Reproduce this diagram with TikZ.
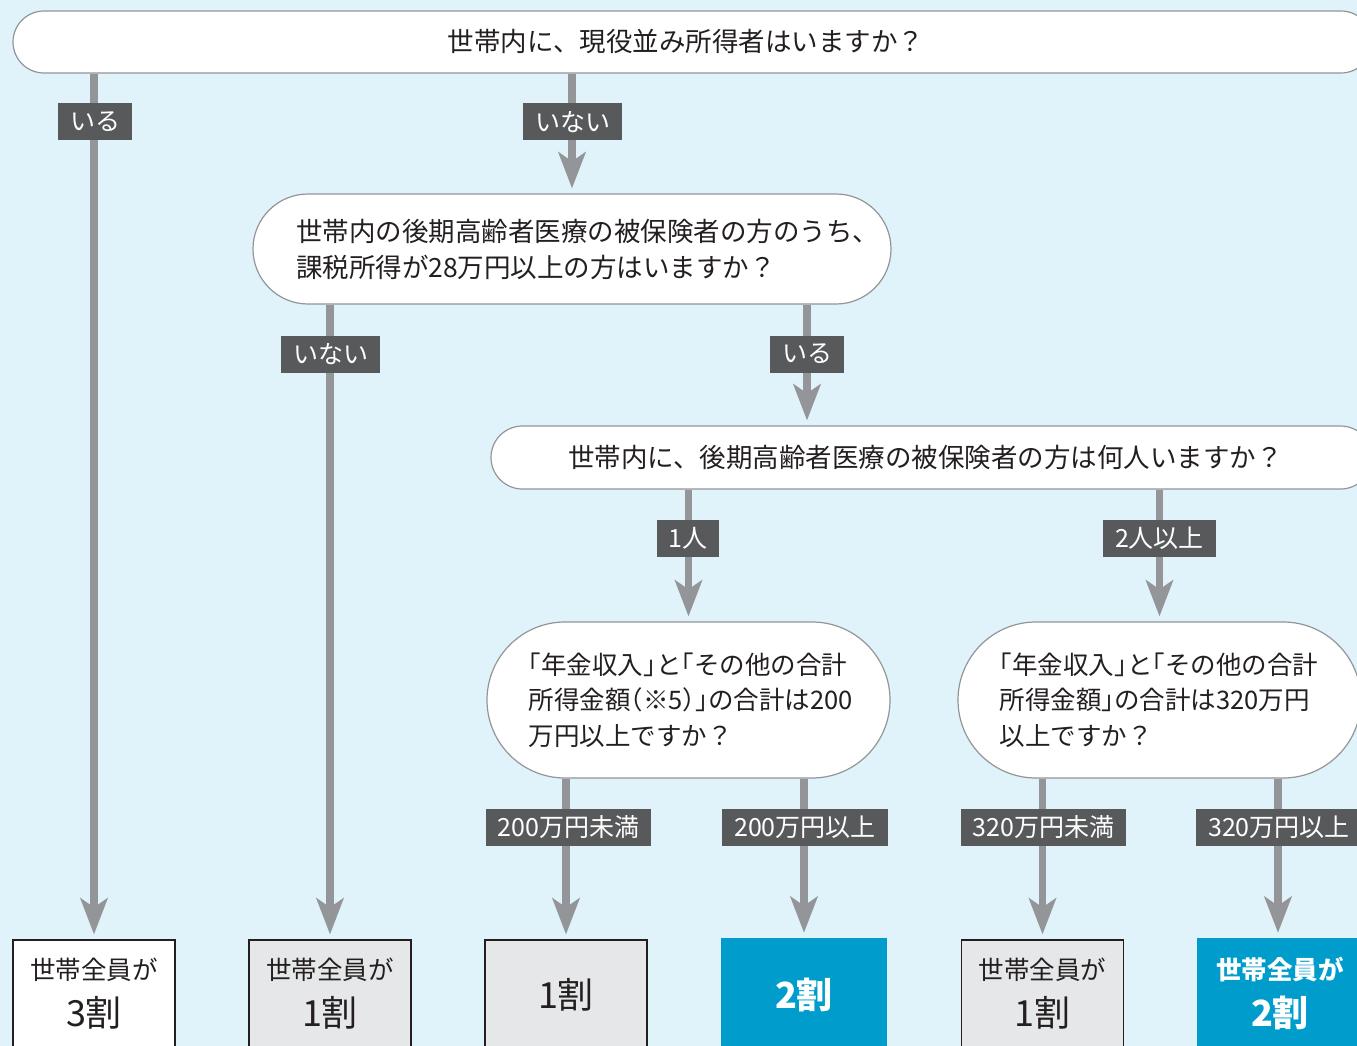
\documentclass[tikz,border=0pt]{standalone}
\usepackage{fontspec}
\setmainfont{Noto Sans CJK JP}
\newfontfamily\halfpunct{Noto Sans CJK JP}[RawFeature=+halt]
\usetikzlibrary{arrows.meta}
\definecolor{bgc}{HTML}{E0F2FA}
\definecolor{qline}{HTML}{939598}
\definecolor{arrc}{HTML}{939598}
\definecolor{labc}{HTML}{58595B}
\definecolor{txtc}{HTML}{231F20}
\definecolor{boxg}{HTML}{E6E7E8}
\definecolor{bluec}{HTML}{009DCC}
\begin{document}
\begin{tikzpicture}[x=1pt,y=-1pt,
  qbox/.style={draw=qline, line width=1.2pt, fill=white, text=txtc, inner sep=0pt,
    font=\fontsize{26.5}{36}\selectfont},
  qsmall/.style={qbox, font=\fontsize{25.5}{35.5}\selectfont},
  labbox/.style={fill=labc, text=white, inner xsep=12pt, inner ysep=0pt, minimum height=37pt,
    font=\fontsize{25}{28}\selectfont},
  rbox/.style={draw=txtc, line width=1.2pt, fill=boxg, minimum width=162pt, minimum height=150pt},
  wbox/.style={rbox, fill=white},
  bbox/.style={fill=bluec, minimum width=166pt, minimum height=150pt},
  smalltxt/.style={text=txtc, inner sep=0pt, font=\fontsize{25.5}{30}\selectfont},
  bigtxt/.style={text=txtc, inner sep=0pt, font=\fontsize{36}{40}\selectfont},
  bsmall/.style={text=white, inner sep=0pt, font=\fontsize{25.5}{30}\selectfont\bfseries},
  bbig/.style={text=white, inner sep=0pt, font=\fontsize{36}{40}\selectfont\bfseries},
  arr/.style={draw=arrc, line width=7.5pt, -{Stealth[length=36pt,width=27pt,inset=9pt]}, shorten >=5pt}
]
\useasboundingbox (0,0) rectangle (1357,1046);
\clip (0,0) rectangle (1357,1046);
\fill[bgc] (0,0) rectangle (1357,1046);

% question nodes
\node[qbox, minimum width=1359pt, minimum height=62pt, rounded corners=31pt] (q1) at (692.5,42)
  {\hspace*{-13pt}世帯内に、現役並み所得者はいますか？};
\node[qbox, minimum width=638pt, minimum height=110pt, rounded corners=55pt, text width=620pt, align=left] (q2) at (572,249)
  {\hspace*{34pt}世帯内の後期高齢者医療の被保険者の方のうち、\\\hspace*{34pt}課税所得が28万円以上の方はいますか？};
\node[qbox, minimum width=881pt, minimum height=63pt, rounded corners=31.5pt] (q3) at (931.5,457.5)
  {\hspace*{-12pt}世帯内に、後期高齢者医療の被保険者の方は何人いますか？};
\node[qsmall, minimum width=403pt, minimum height=156pt, rounded corners=78pt, text width=320pt, align=left] (q4) at (688.5,700)
  {\halfpunct 「年金収入」と「その他の合計\\所得金額（※5）」の合計は200\\万円以上ですか？};
\node[qsmall, minimum width=403pt, minimum height=156pt, rounded corners=78pt, text width=320pt, align=left] (q5) at (1159.5,700)
  {\halfpunct 「年金収入」と「その他の合計\\所得金額」の合計は320万円\\以上ですか？};

% result boxes
\node[wbox] (b1) at (94,1015) {};
\node[rbox] (b2) at (330,1015) {};
\node[rbox] (b3) at (566,1015) {};
\node[bbox] (b4) at (804,1013) {};
\node[rbox] (b5) at (1042.5,1015) {};
\node[bbox, minimum width=162pt] (b6) at (1278,1013) {};

\node[smalltxt] (b1a) at (94,970) {世帯全員が};
\node[bigtxt] (b1b) at (94,1013) {3割};
\node[smalltxt] (b2a) at (330,970) {世帯全員が};
\node[bigtxt] (b2b) at (330,1013) {1割};
\node[bigtxt] (b3a) at (566,995) {1割};
\node[bbig] (b4a) at (804,995) {2割};
\node[smalltxt] (b5a) at (1042.5,970) {世帯全員が};
\node[bigtxt] (b5b) at (1042.5,1013) {1割};
\node[bsmall] (b6a) at (1280,970) {世帯全員が};
\node[bbig] (b6b) at (1280,1013) {2割};

% label positions
\coordinate (c4) at (807,354);

% connectors
\draw[arr] (q1.south -| b1) -- (b1.north);
\draw[arr] (q1.south -| q2) -- (q2.north);
\draw[arr] (q2.south -| b2) -- (b2.north);
\draw[arr] (q2.south -| c4) -- (q3.north -| c4);
\draw[arr] (q3.south -| q4) -- (q4.north);
\draw[arr] (q3.south -| q5) -- (q5.north);
\draw[arr] (q4.south -| b3) -- (b3.north);
\draw[arr] (q4.south -| b4) -- (b4.north);
\draw[arr] (q5.south -| b5) -- (b5.north);
\draw[arr] (q5.south -| b6) -- (b6.north);

% labels
\node[labbox] (l1) at (95,122) {いる};
\node[labbox] (l2) at (572.5,122) {いない};
\node[labbox] (l3) at (330.5,354) {いない};
\node[labbox] (l4) at (c4) {いる};
\node[labbox] (l5) at (688,538) {1人};
\node[labbox] (l6) at (1159.5,538) {2人以上};
\node[labbox] (l7) at (568.5,827) {200万円未満};
\node[labbox] (l8) at (805,827) {200万円以上};
\node[labbox] (l9) at (1043.5,827) {320万円未満};
\node[labbox] (l10) at (1279,827) {320万円以上};
\end{tikzpicture}
\end{document}
